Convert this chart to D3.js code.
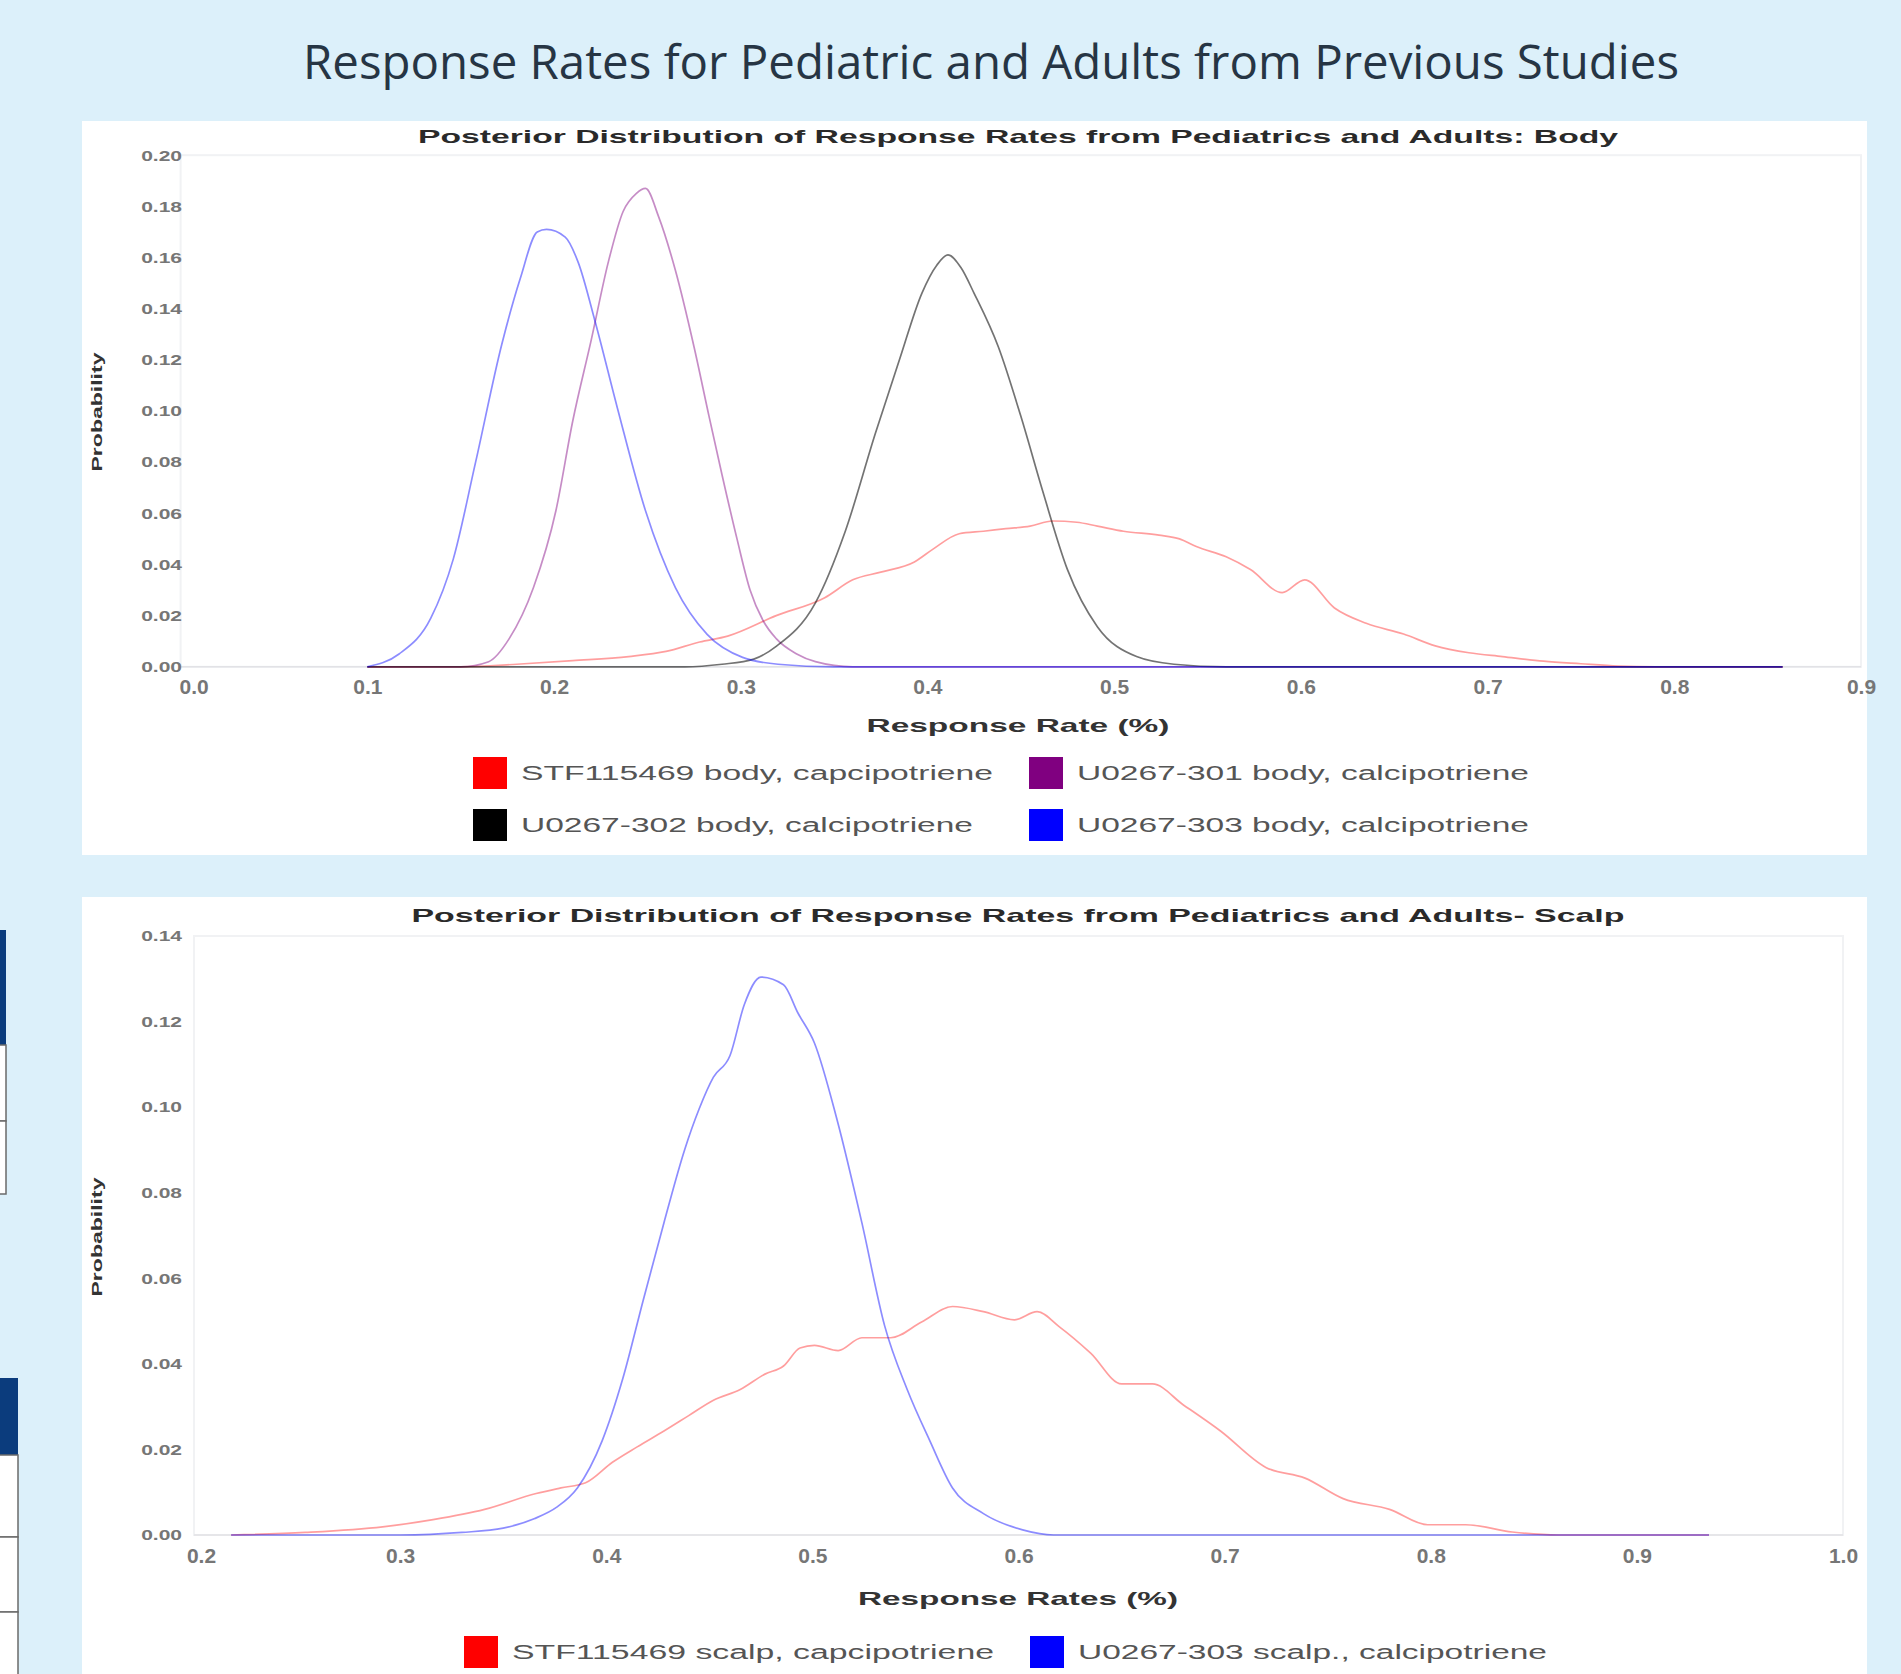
<!DOCTYPE html>
<html>
<head>
<meta charset="utf-8">
<script src="https://cdn.jsdelivr.net/npm/d3@7/dist/d3.min.js"></script>
<style>
  html, body { margin: 0; padding: 0; background: #dcf0fa; }
  svg { display: block; }
</style>
</head>
<body>
<svg id="chart"></svg>
<script>
// ---- data: [response rate, probability] ----
let bodyLabels = ['STF115469 body, capcipotriene', 'U0267-301 body, calcipotriene',
                  'U0267-302 body, calcipotriene', 'U0267-303 body, calcipotriene'];
let scalpLabels = ['STF115469 scalp, capcipotriene', 'U0267-303 scalp., calcipotriene'];

let bodyStf = [[0.10,0],[0.15,0],[0.18,0.001],[0.21,0.0024],[0.24,0.004],[0.26,0.006],[0.278,0.0097],
  [0.293,0.012],[0.319,0.020],[0.345,0.027],[0.36,0.034],[0.375,0.037],[0.393,0.041],[0.403,0.046],
  [0.417,0.052],[0.43,0.053],[0.442,0.054],[0.455,0.055],[0.467,0.057],[0.48,0.0565],[0.491,0.055],
  [0.505,0.053],[0.524,0.0515],[0.535,0.050],[0.544,0.047],[0.56,0.043],[0.573,0.038],[0.59,0.029],
  [0.602,0.034],[0.618,0.023],[0.635,0.017],[0.655,0.0128],[0.672,0.0082],[0.69,0.0055],[0.708,0.004],
  [0.73,0.0022],[0.75,0.0012],[0.77,0.0003],[0.79,0],[0.858,0]];
let body301 = [[0.10,0],[0.15,0],[0.165,0.002],[0.176,0.011],[0.189,0.031],[0.201,0.061],[0.210,0.096],
  [0.220,0.128],[0.229,0.158],[0.237,0.178],[0.244,0.185],[0.249,0.187],[0.256,0.176],[0.265,0.155],
  [0.275,0.125],[0.283,0.098],[0.29,0.075],[0.298,0.05],[0.305,0.03],[0.312,0.018],[0.319,0.011],
  [0.33,0.005],[0.34,0.002],[0.36,0],[0.858,0]];
let body302 = [[0.10,0],[0.27,0],[0.29,0.001],[0.307,0.003],[0.319,0.008],[0.340,0.025],[0.356,0.053],
  [0.372,0.091],[0.385,0.120],[0.397,0.146],[0.405,0.157],[0.411,0.161],[0.418,0.156],[0.425,0.146],
  [0.438,0.125],[0.450,0.098],[0.462,0.068],[0.475,0.038],[0.491,0.0157],[0.512,0.004],[0.532,0.001],
  [0.56,0],[0.858,0]];
let body303 = [[0.10,0],[0.117,0.005],[0.134,0.019],[0.146,0.042],[0.158,0.080],[0.172,0.126],[0.182,0.152],
  [0.191,0.170],[0.196,0.171],[0.206,0.168],[0.213,0.158],[0.222,0.135],[0.234,0.101],[0.249,0.061],
  [0.265,0.031],[0.282,0.0127],[0.301,0.0037],[0.32,0.001],[0.35,0],[0.858,0]];

let scalpStf = [[0.218,0],[0.254,0.0006],[0.2915,0.0019],[0.316,0.0036],[0.341,0.006],[0.366,0.0097],
  [0.378,0.011],[0.39,0.0122],[0.403,0.017],[0.415,0.0206],[0.428,0.0243],[0.44,0.0279],[0.452,0.0315],
  [0.465,0.034],[0.477,0.0376],[0.486,0.0395],[0.494,0.0437],[0.501,0.0443],[0.5125,0.0431],[0.524,0.0461],
  [0.538,0.0461],[0.553,0.0498],[0.568,0.0534],[0.583,0.0522],[0.598,0.0503],[0.609,0.0522],[0.62,0.0486],
  [0.635,0.0425],[0.65,0.0353],[0.665,0.0353],[0.68,0.0304],[0.698,0.0243],[0.72,0.0158],[0.739,0.0133],
  [0.7575,0.0085],[0.78,0.006],[0.7985,0.0024],[0.817,0.0024],[0.8395,0.0007],[0.862,0],[0.935,0]];
let scalp303 = [[0.218,0],[0.30,0],[0.33,0.0006],[0.35,0.0016],[0.365,0.0038],[0.376,0.0065],[0.386,0.011],
  [0.398,0.022],[0.408,0.0365],[0.418,0.055],[0.428,0.073],[0.438,0.090],[0.445,0.0995],[0.452,0.107],
  [0.46,0.112],[0.467,0.124],[0.475,0.1304],[0.486,0.1286],[0.493,0.122],[0.501,0.115],[0.512,0.097],
  [0.524,0.073],[0.535,0.049],[0.546,0.034],[0.557,0.022],[0.568,0.011],[0.583,0.005],[0.602,0.0012],
  [0.617,0],[0.935,0]];

let bodyXTicks = [0, 0.1, 0.2, 0.3, 0.4, 0.5, 0.6, 0.7, 0.8, 0.9];
let bodyYTicks = [0, 0.02, 0.04, 0.06, 0.08, 0.10, 0.12, 0.14, 0.16, 0.18, 0.20];
let scalpXTicks = [0.2, 0.3, 0.4, 0.5, 0.6, 0.7, 0.8, 0.9, 1.0];
let scalpYTicks = [0, 0.02, 0.04, 0.06, 0.08, 0.10, 0.12, 0.14];

let w = 1901;
let h = 1674;
let font = 'Liberation Sans, Arial, sans-serif';

let svg = d3.select('#chart').attr('width', w).attr('height', h);

svg.append('rect').attr('width', w).attr('height', h).attr('fill', '#dcf0fa');

// bits of a table cut off at the left edge of the slide
let tableBit = (x, y, wd, headH, rows) => {
  svg.append('rect').attr('x', x).attr('y', y).attr('width', wd).attr('height', headH).attr('fill', '#0b3c7d');
  let yy = y + headH;
  rows.forEach(rh => {
    svg.append('rect').attr('x', x - 2).attr('y', yy).attr('width', wd + 2).attr('height', rh)
       .attr('fill', '#fff').attr('stroke', '#6a6a6a').attr('stroke-width', 1.5);
    yy += rh;
  });
};
tableBit(0, 930, 6, 115, [76, 73]);
tableBit(0, 1378, 18, 77, [82, 75, 70]);

// main title
svg.append('text')
   .attr('x', 991).attr('y', 79)
   .attr('text-anchor', 'middle')
   .attr('font-family', 'Open Sans, sans-serif')
   .attr('font-size', 48)
   .attr('fill', '#263544')
   .attr('textLength', 1376).attr('lengthAdjust', 'spacingAndGlyphs')
   .text('Response Rates for Pediatric and Adults from Previous Studies');

let stretch = (sel, k) => sel.each(function () {
  d3.select(this).attr('textLength', this.getComputedTextLength() * k).attr('lengthAdjust', 'spacingAndGlyphs');
});

let drawPanel = (c) => {
  svg.append('rect').attr('x', c.px).attr('y', c.py).attr('width', c.pw).attr('height', c.ph).attr('fill', '#fff');

  let xSc = d3.scaleLinear().domain(c.xDomain).range(c.xRange);
  let ySc = d3.scaleLinear().domain(c.yDomain).range(c.yRange);

  // faint frame + baseline
  svg.append('rect')
     .attr('x', xSc(c.xDomain[0])).attr('y', ySc(c.yDomain[1]))
     .attr('width', xSc(c.xDomain[1]) - xSc(c.xDomain[0]))
     .attr('height', ySc(c.yDomain[0]) - ySc(c.yDomain[1]))
     .attr('fill', 'none').attr('stroke', '#f1f2f4').attr('stroke-width', 2);
  svg.append('line')
     .attr('x1', xSc(c.xDomain[0])).attr('x2', xSc(c.xDomain[1]))
     .attr('y1', ySc(0)).attr('y2', ySc(0))
     .attr('stroke', '#e2e2e6').attr('stroke-width', 1.5);

  // subtitle
  svg.append('text')
     .attr('x', 1018).attr('y', c.titleY)
     .attr('text-anchor', 'middle').attr('font-family', font).attr('font-weight', 'bold')
     .attr('font-size', 19).attr('fill', '#2a2a2a')
     .attr('textLength', c.titleLen).attr('lengthAdjust', 'spacingAndGlyphs')
     .text(c.title);

  // axes
  let yAxis = d3.axisLeft(ySc).tickValues(c.yTicks).tickFormat(d3.format('.2f')).tickSize(0).tickPadding(0);
  let gy = svg.append('g').attr('transform', 'translate(182,0)').call(yAxis);
  gy.select('.domain').remove();
  gy.selectAll('text').attr('font-family', font).attr('font-weight', 'bold').attr('font-size', 15)
    .attr('fill', '#767676').call(stretch, 1.4);

  let xAxis = d3.axisBottom(xSc).tickValues(c.xTicks).tickFormat(d3.format('.1f')).tickSize(0).tickPadding(c.xPad);
  let gx = svg.append('g').attr('transform', 'translate(0,' + ySc(0) + ')').call(xAxis);
  gx.select('.domain').remove();
  gx.selectAll('text').attr('font-family', font).attr('font-weight', 'bold').attr('font-size', 20)
    .attr('fill', '#767676').call(stretch, 1.05);
  gx.select('.tick text').attr('dx', c.firstDx);

  svg.append('text')
     .attr('x', 1018).attr('y', c.xTitleY)
     .attr('text-anchor', 'middle').attr('font-family', font).attr('font-weight', 'bold')
     .attr('font-size', 19).attr('fill', '#333')
     .attr('textLength', c.xTitleLen).attr('lengthAdjust', 'spacingAndGlyphs')
     .text(c.xTitle);

  svg.append('text')
     .attr('transform', 'translate(102,' + c.yTitleMid + ') rotate(-90)')
     .attr('text-anchor', 'middle').attr('font-family', font).attr('font-weight', 'bold')
     .attr('font-size', 14).attr('fill', '#333')
     .attr('textLength', 119).attr('lengthAdjust', 'spacingAndGlyphs')
     .text('Probability');

  // curves
  let line = d3.line().x(d => xSc(d[0])).y(d => ySc(d[1])).curve(d3.curveMonotoneX);
  c.series.forEach(s => {
    svg.append('path').datum(s.data)
       .attr('d', line)
       .attr('fill', 'none')
       .attr('stroke', s.color)
       .attr('stroke-opacity', s.op)
       .attr('stroke-width', 1.7)
       .attr('stroke-linejoin', 'round');
  });

  // legend
  c.legend.forEach(l => {
    svg.append('rect').attr('x', l.x).attr('y', l.y - 16).attr('width', 34).attr('height', 32).attr('fill', l.color);
    svg.append('text')
       .attr('x', l.x + 48).attr('y', l.y + 7)
       .attr('font-family', font).attr('font-size', 20).attr('fill', '#555')
       .attr('textLength', l.len).attr('lengthAdjust', 'spacingAndGlyphs')
       .text(l.label);
  });
};

drawPanel({
  px: 82, py: 121, pw: 1785, ph: 734,
  xDomain: [0, 0.9], xRange: [180.6, 1861],
  yDomain: [0, 0.2], yRange: [666.8, 155.2],
  xTicks: bodyXTicks, yTicks: bodyYTicks, xPad: 13, firstDx: 13,
  title: 'Posterior Distribution of Response Rates from Pediatrics and Adults: Body',
  titleY: 143, titleLen: 1200,
  xTitle: 'Response Rate (%)', xTitleY: 732, xTitleLen: 303,
  yTitleMid: 412,
  series: [
    { data: bodyStf, color: '#ff0000', op: 0.38 },
    { data: body301, color: '#800080', op: 0.45 },
    { data: body302, color: '#000000', op: 0.55 },
    { data: body303, color: '#0000ff', op: 0.45 }
  ],
  legend: [
    { x: 473, y: 773, color: '#ff0000', label: bodyLabels[0], len: 472 },
    { x: 1029, y: 773, color: '#800080', label: bodyLabels[1], len: 452 },
    { x: 473, y: 825, color: '#000000', label: bodyLabels[2], len: 452 },
    { x: 1029, y: 825, color: '#0000ff', label: bodyLabels[3], len: 452 }
  ]
});

drawPanel({
  px: 82, py: 897, pw: 1785, ph: 800,
  xDomain: [0.2, 1.0], xRange: [194, 1843],
  yDomain: [0, 0.14], yRange: [1535, 936],
  xTicks: scalpXTicks, yTicks: scalpYTicks, xPad: 14, firstDx: 7,
  title: 'Posterior Distribution of Response Rates from Pediatrics and Adults- Scalp',
  titleY: 922, titleLen: 1213,
  xTitle: 'Response Rates (%)', xTitleY: 1605, xTitleLen: 320,
  yTitleMid: 1237,
  series: [
    { data: scalpStf, color: '#ff0000', op: 0.38 },
    { data: scalp303, color: '#0000ff', op: 0.45 }
  ],
  legend: [
    { x: 464, y: 1652, color: '#ff0000', label: scalpLabels[0], len: 482 },
    { x: 1030, y: 1652, color: '#0000ff', label: scalpLabels[1], len: 469 }
  ]
});
</script>
</body>
</html>
